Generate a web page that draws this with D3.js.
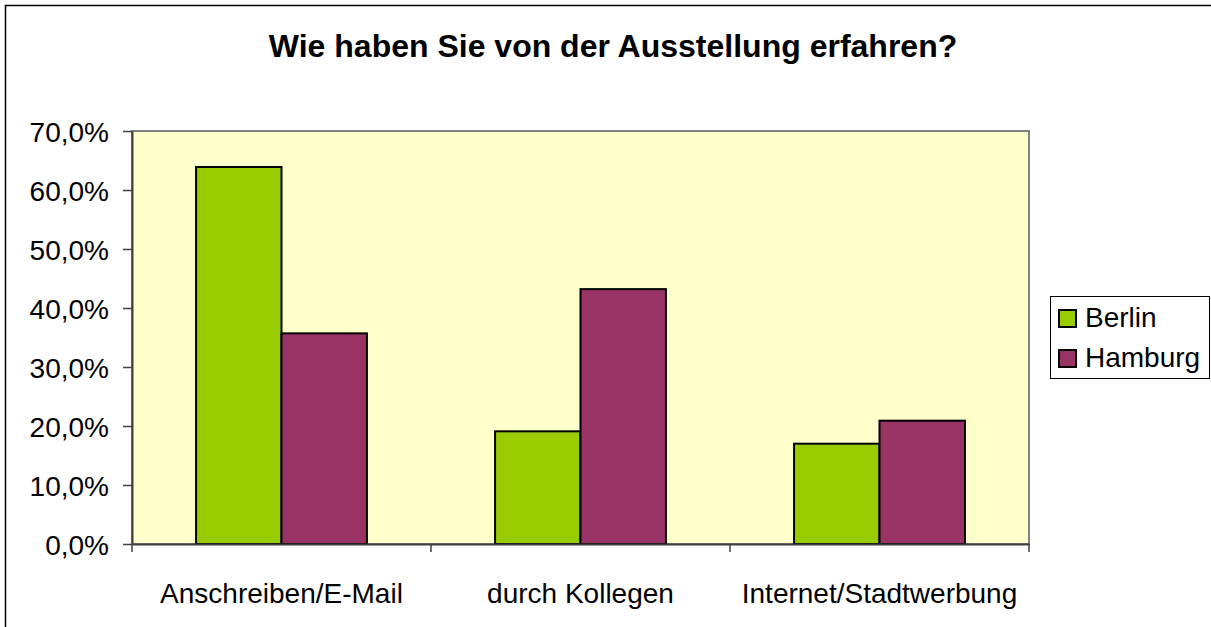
<!DOCTYPE html>
<html>
<head>
<meta charset="utf-8">
<script src="https://cdn.jsdelivr.net/npm/d3@7"></script>
<style>
  html, body { margin: 0; padding: 0; background: #fff; }
  svg { display: block; font-family: "Liberation Sans", Arial, sans-serif; }
</style>
</head>
<body>
<svg id="chart" width="1211" height="627"></svg>
<script>
const title = "Wie haben Sie von der Ausstellung erfahren?";
const categories = ["Anschreiben/E-Mail", "durch Kollegen", "Internet/Stadtwerbung"];
const seriesNames = ["Berlin", "Hamburg"];
const seriesColors = ["#99CC00", "#993366"];
const berlin = [0.639, 0.191, 0.170];
const hamburg = [0.357, 0.432, 0.209];
const yTicks = [0, 0.1, 0.2, 0.3, 0.4, 0.5, 0.6, 0.7];

const seriesValues = [berlin, hamburg];

const svg = d3.select("#chart");
const width = +svg.attr("width"), height = +svg.attr("height");

// plot area
const plotL = 132, plotR = 1029, plotT = 131, plotB = 544;

const locale = d3.formatLocale({decimal: ",", thousands: ".", grouping: [3], currency: ["", " €"]});
const fmt = locale.format(".1%");

const x0 = d3.scaleBand().domain(categories).range([plotL, plotR]).padding(0);
const x1 = d3.scaleBand().domain(seriesNames).range([0, x0.bandwidth()])
    .paddingInner(0).paddingOuter(0.75);
const y = d3.scaleLinear().domain([0, 0.7]).range([plotB, plotT]);
const color = d3.scaleOrdinal().domain(seriesNames).range(seriesColors);

// outer chart border (left and top visible)
svg.append("rect")
    .attr("x", 5.5).attr("y", 5.5)
    .attr("width", width + 20).attr("height", height + 20)
    .attr("fill", "none").attr("stroke", "#000").attr("stroke-width", 1.5);

// title
svg.append("text")
    .attr("x", 613).attr("y", 57)
    .attr("text-anchor", "middle")
    .style("font-size", "32px").style("font-weight", "bold")
    .text(title);

// plot background
svg.append("rect")
    .attr("x", plotL).attr("y", plotT)
    .attr("width", plotR - plotL).attr("height", plotB - plotT)
    .attr("fill", "#FFFFCC").attr("stroke", "#808080").attr("stroke-width", 2);

// bars
const rows = categories.map(function(c, i) {
  return {cat: c, vals: seriesNames.map(function(s, j) { return {name: s, value: seriesValues[j][i]}; })};
});

svg.append("g")
  .selectAll("g")
  .data(rows)
  .enter().append("g")
    .attr("transform", function(d) { return "translate(" + x0(d.cat) + ",0)"; })
  .selectAll("rect")
  .data(function(d) { return d.vals; })
  .enter().append("rect")
    .attr("x", function(d) { return x1(d.name); })
    .attr("y", function(d) { return y(d.value); })
    .attr("width", x1.bandwidth())
    .attr("height", function(d) { return y(0) - y(d.value); })
    .attr("fill", function(d) { return color(d.name); })
    .attr("stroke", "#000").attr("stroke-width", 2);

// y axis
const yAxis = svg.append("g")
    .attr("transform", "translate(" + plotL + ",0)")
    .call(d3.axisLeft(y).tickValues(yTicks).tickFormat(fmt).tickSize(9).tickSizeOuter(0).tickPadding(14));
yAxis.select(".domain").attr("stroke", "#404040").attr("stroke-width", 2);
yAxis.selectAll(".tick line").attr("stroke", "#404040").attr("stroke-width", 1.5);
yAxis.selectAll("text").style("font-size", "28px").attr("fill", "#000")
    .attr("dy", "0.36em");
yAxis.attr("font-family", null);

// x axis
const xAxis = svg.append("g")
    .attr("transform", "translate(0," + plotB + ")")
    .call(d3.axisBottom(x0).tickSize(0).tickSizeOuter(0).tickPadding(39));
xAxis.select(".domain").attr("stroke", "#404040").attr("stroke-width", 2);
xAxis.selectAll("text").style("font-size", "28px").attr("fill", "#000");
xAxis.attr("font-family", null);

const bounds = categories.map(function(c) { return x0(c); }).concat([plotR]);
xAxis.selectAll(".bound")
  .data(bounds)
  .enter().append("line")
    .attr("class", "bound")
    .attr("x1", function(d) { return d; }).attr("x2", function(d) { return d; })
    .attr("y1", 0).attr("y2", 8)
    .attr("stroke", "#404040").attr("stroke-width", 1.5);

// legend
const legend = svg.append("g").attr("transform", "translate(1050,296)");
legend.append("rect")
    .attr("x", 0.5).attr("y", 0.5).attr("width", 159).attr("height", 82)
    .attr("fill", "#fff").attr("stroke", "#000").attr("stroke-width", 1);
const item = legend.selectAll(".item")
  .data(seriesNames)
  .enter().append("g")
    .attr("class", "item")
    .attr("transform", function(d, i) { return "translate(9," + (14 + i * 40) + ")"; });
item.append("rect")
    .attr("width", 17).attr("height", 17)
    .attr("fill", function(d) { return color(d); })
    .attr("stroke", "#000").attr("stroke-width", 2);
item.append("text")
    .attr("x", 26).attr("y", 17)
    .style("font-size", "28px")
    .text(function(d) { return d; });
</script>
</body>
</html>
